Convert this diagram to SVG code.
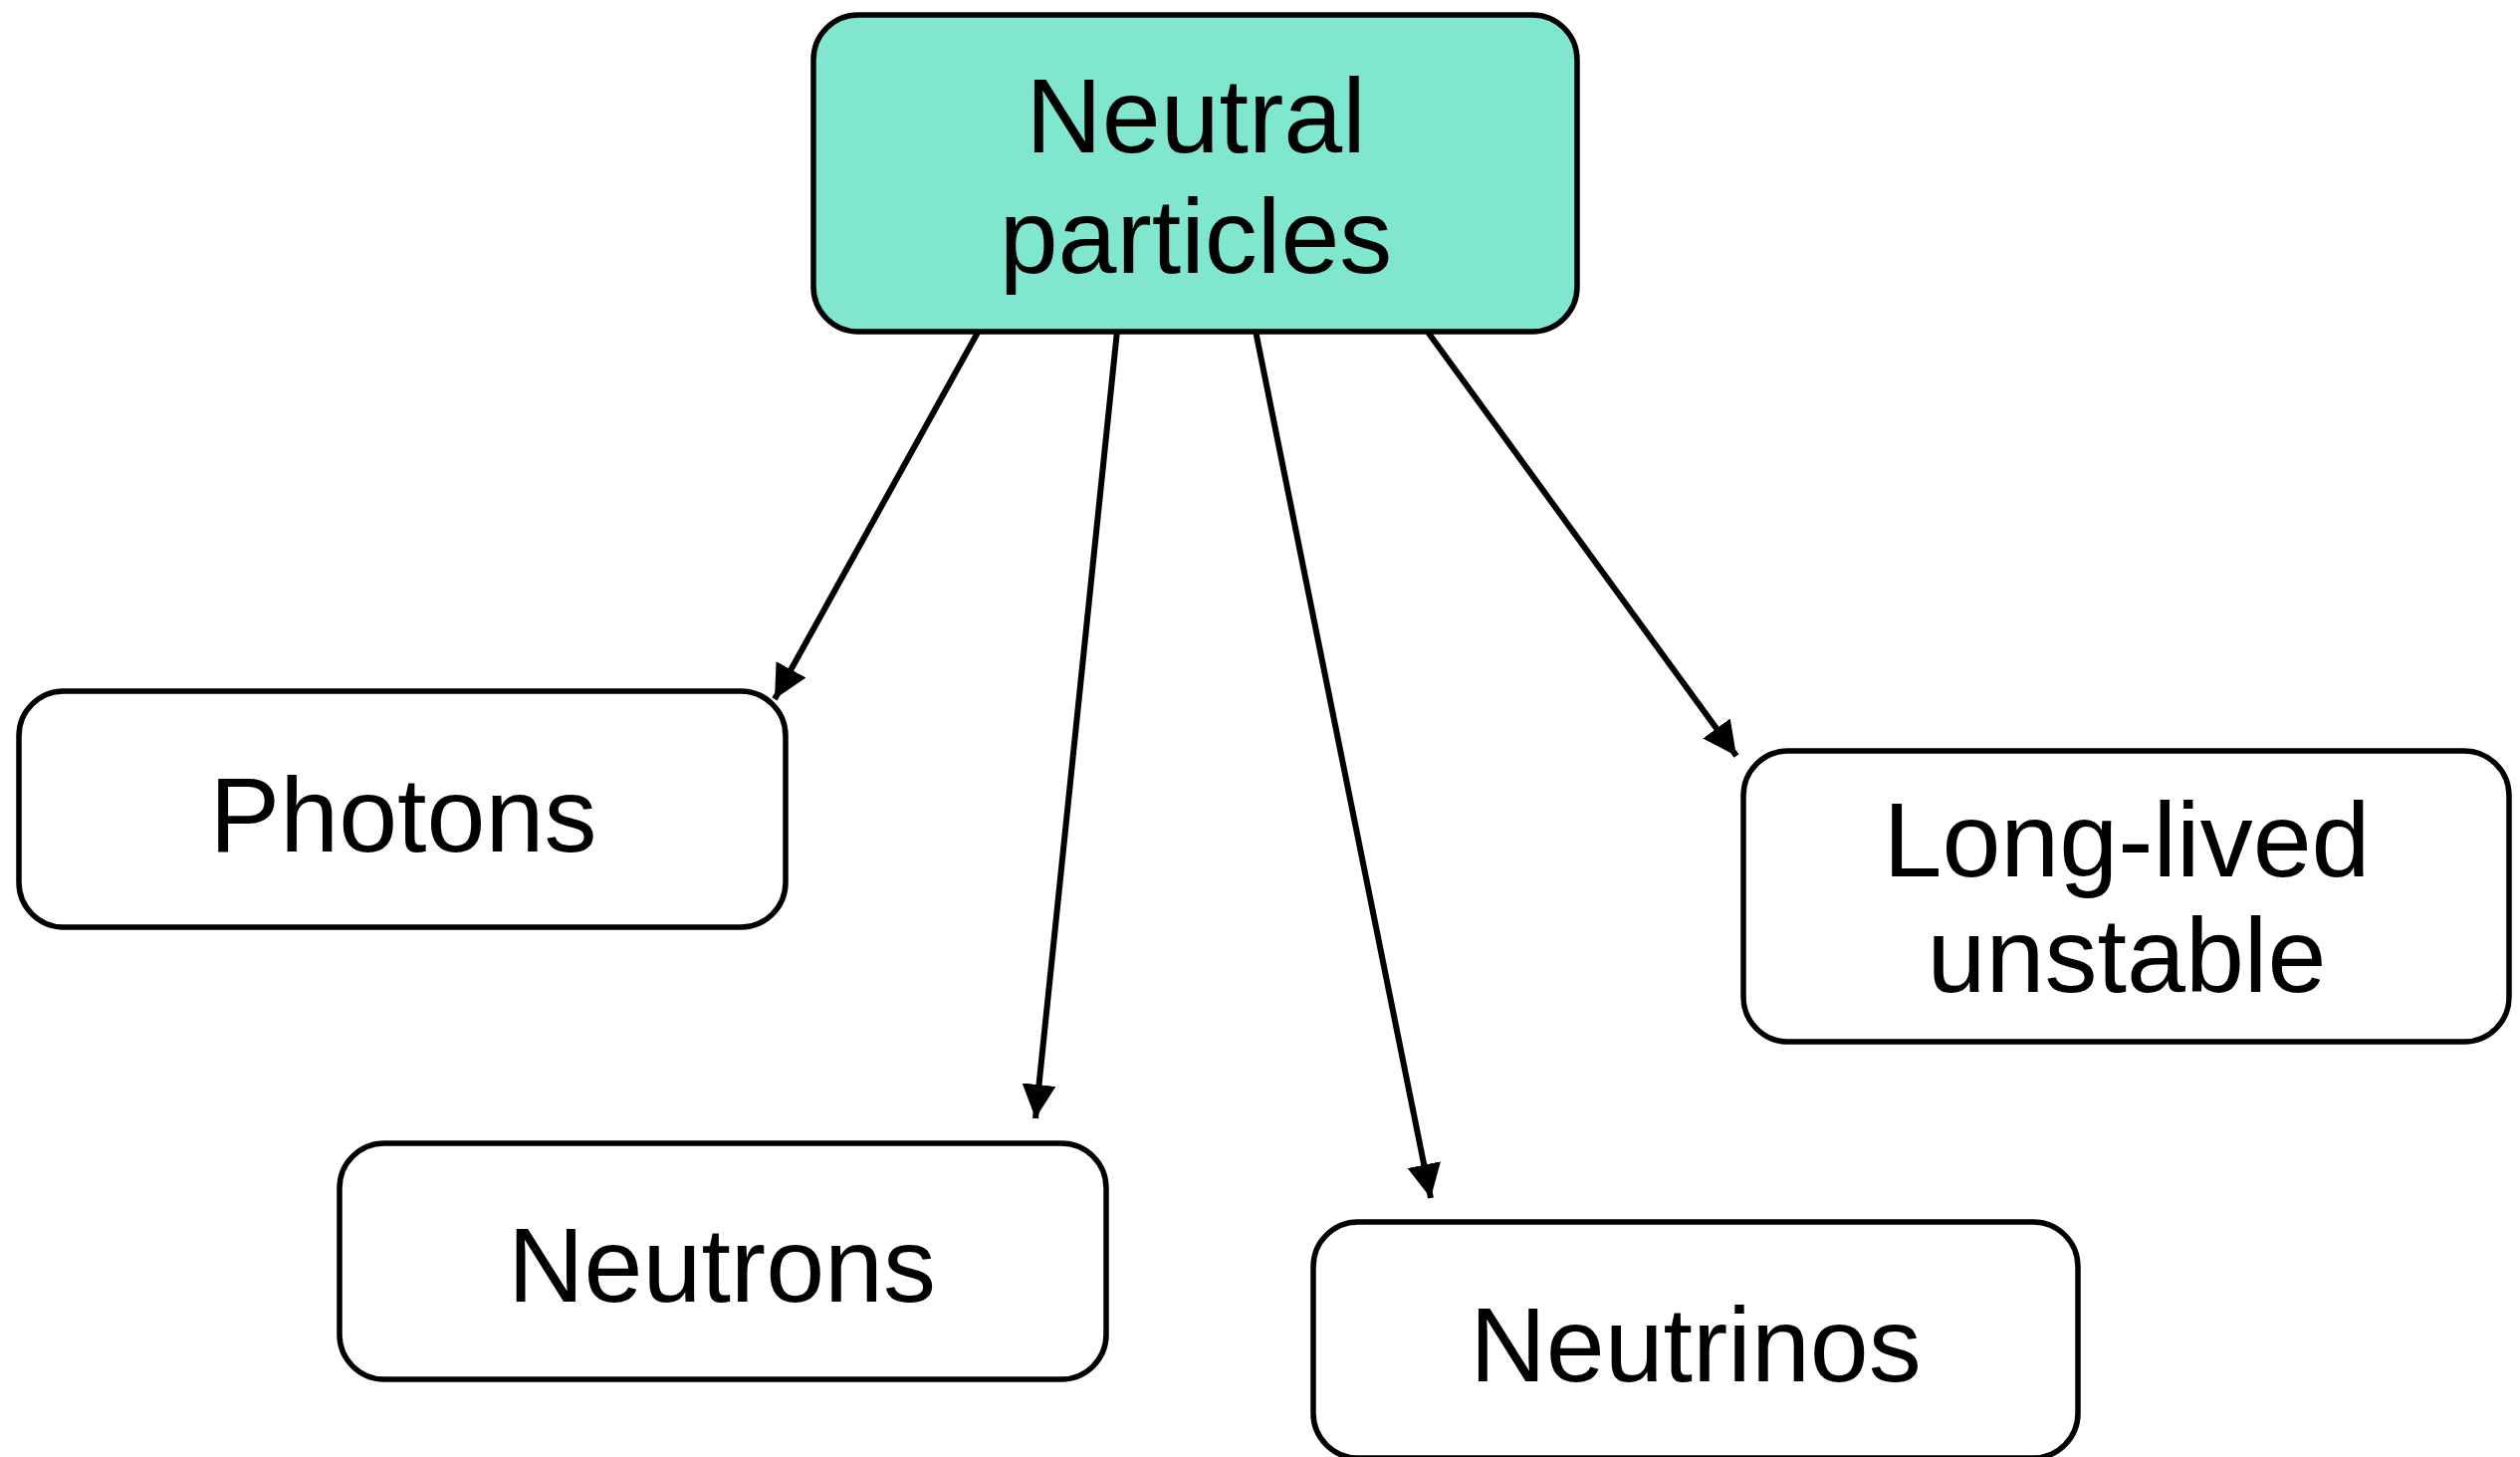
<svg xmlns="http://www.w3.org/2000/svg" width="2531" height="1463" viewBox="0 0 2531 1463">
<style>
.box{fill:#ffffff;stroke:#000;stroke-width:5.5}
.root{fill:#80E6CE;stroke:#000;stroke-width:5.5}
.lbl{font-family:"Liberation Sans",Arial,Helvetica,sans-serif;font-size:106px;fill:#000;text-anchor:middle}
.edge{stroke:#000;stroke-width:6;fill:none}
</style>
<defs>
<marker id="ah" markerUnits="userSpaceOnUse" viewBox="0 0 34 34" refX="34" refY="17" markerWidth="34" markerHeight="34" orient="auto">
<path d="M0,0 L34,17 L0,34 z" fill="#000"/>
</marker>
</defs>
<rect width="2531" height="1463" fill="#ffffff"/>
<g id="connectors">
<path class="edge" d="M983,332 L778,702" marker-end="url(#ah)"/>
<path class="edge" d="M1122,332 L1040,1123" marker-end="url(#ah)"/>
<path class="edge" d="M1261,332 L1437,1203" marker-end="url(#ah)"/>
<path class="edge" d="M1433,332 L1744,759" marker-end="url(#ah)"/>
</g>
<g id="node-neutral">
<rect class="root" x="817" y="15" width="767" height="318" rx="45" ry="45"/>
<text class="lbl" x="1201" y="153">Neutral</text>
<text class="lbl" x="1201" y="274">particles</text>
</g>
<g id="node-photons">
<rect class="box" x="19" y="694" width="770" height="237" rx="45" ry="45"/>
<text class="lbl" x="405" y="855">Photons</text>
</g>
<g id="node-neutrons">
<rect class="box" x="341" y="1148" width="770" height="237" rx="45" ry="45"/>
<text class="lbl" x="725" y="1307">Neutrons</text>
</g>
<g id="node-neutrinos">
<rect class="box" x="1319" y="1227" width="768" height="237" rx="45" ry="45"/>
<text class="lbl" x="1703" y="1387">Neutrinos</text>
</g>
<g id="node-longlived">
<rect class="box" x="1751" y="754" width="769" height="292" rx="45" ry="45"/>
<text class="lbl" x="2136" y="880">Long-lived</text>
<text class="lbl" x="2136" y="996">unstable</text>
</g>
</svg>
